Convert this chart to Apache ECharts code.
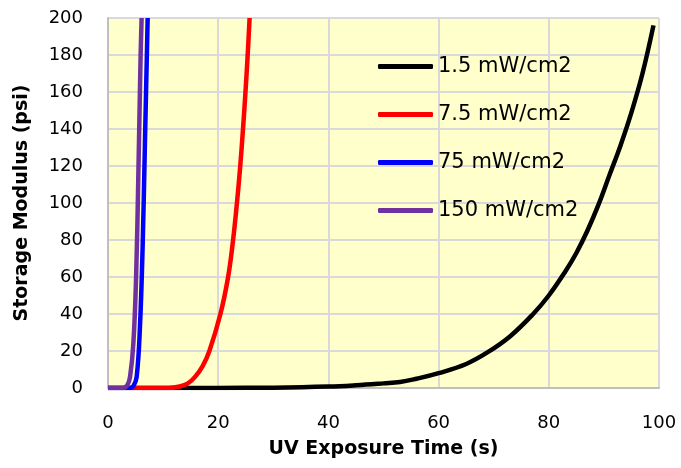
<!DOCTYPE html>
<html>
<head>
<meta charset="utf-8">
<script src="https://cdn.jsdelivr.net/npm/echarts@6/dist/echarts.min.js"></script>
<style>
  html, body { margin: 0; padding: 0; background: #fff; }
  #chart { width: 681px; height: 468px; }
</style>
</head>
<body>
<div id="chart"></div>
<script>
// series names (legend)
var seriesNames = ['1.5 mW/cm2', '7.5 mW/cm2', '75 mW/cm2', '150 mW/cm2'];
var seriesColors = ['#000000', '#FF0000', '#0000FF', '#7030A0'];

// 1.5 mW/cm2
var blackX = [0, 14, 20, 30, 40, 45, 50, 53, 56, 60, 65, 69, 73, 77, 80, 83, 85, 87, 89, 91, 93, 95, 97, 99];
var blackY = [0, 0, 0.05, 0.2, 0.8, 1.5, 2.5, 3.2, 5, 8, 13, 19.5, 28, 39.5, 50, 63, 73, 85, 99, 115, 131, 149, 170, 196];

// 7.5 mW/cm2
var redX = [4, 11, 13, 14.5, 15.8, 17.2, 18.4, 20.4, 21.8, 22.7, 23.4, 24, 24.5, 24.95, 25.35, 25.7];
var redY = [0, 0, 0.8, 2.5, 6, 12, 20, 40, 60, 80, 100, 120, 140, 160, 180, 200];

// 75 mW/cm2
var blueX = [0, 4, 4.6, 5.2, 5.8, 6.3, 6.7, 7.2];
var blueY = [0, 0, 1, 6, 33, 78, 132, 200];

// 150 mW/cm2
var purpleX = [0, 2.7, 3.5, 4, 4.6, 5.1, 5.5, 5.9, 6.1];
var purpleY = [0, 0, 1.5, 6, 24, 60, 114, 177, 200];

function pairs(xs, ys) {
  var out = [];
  for (var i = 0; i < xs.length; i++) out.push([xs[i], ys[i]]);
  return out;
}

var allData = [
  pairs(blackX, blackY),
  pairs(redX, redY),
  pairs(blueX, blueY),
  pairs(purpleX, purpleY)
];

var myChart = echarts.init(document.getElementById('chart'));

var series = seriesNames.map(function (name, i) {
  return {
    name: name,
    type: 'line',
    data: allData[i],
    showSymbol: false,
    symbol: 'none',
    smooth: 0.4,
    color: seriesColors[i],
    lineStyle: { width: 4.5, color: seriesColors[i] },
    z: 2 + i
  };
});

var option = {
  animation: false,
  textStyle: { fontFamily: 'DejaVu Sans' },
  grid: {
    left: 108, top: 18, right: 22, bottom: 80,
    show: true,
    backgroundColor: '#FFFFCC',
    borderWidth: 0
  },
  legend: {
    orient: 'vertical',
    left: 373,
    top: 51,
    itemWidth: 55,
    itemHeight: 5,
    itemGap: 27,
    icon: 'roundRect',
    data: seriesNames,
    textStyle: { fontSize: 21, color: '#000', fontFamily: 'DejaVu Sans' }
  },
  xAxis: {
    type: 'value',
    min: 0, max: 100, interval: 20,
    name: 'UV Exposure Time (s)',
    nameLocation: 'middle',
    nameGap: 52,
    nameTextStyle: { fontSize: 19, fontWeight: 'bold', color: '#000', fontFamily: 'DejaVu Sans' },
    axisLine: { show: true, lineStyle: { color: '#BFBFBF', width: 2 } },
    axisTick: { show: false },
    axisLabel: { fontSize: 18, color: '#000', margin: 26 },
    splitLine: { show: true, lineStyle: { color: '#D9D9D9', width: 2 } }
  },
  yAxis: {
    type: 'value',
    min: 0, max: 200, interval: 20,
    name: 'Storage Modulus (psi)',
    nameLocation: 'middle',
    nameGap: 76,
    nameTextStyle: { fontSize: 19, fontWeight: 'bold', color: '#000', fontFamily: 'DejaVu Sans' },
    axisLine: { show: true, lineStyle: { color: '#BFBFBF', width: 2 } },
    axisTick: { show: false },
    axisLabel: { fontSize: 18, color: '#000', margin: 25 },
    splitLine: { show: true, lineStyle: { color: '#D9D9D9', width: 2 } }
  },
  series: series
};

myChart.setOption(option);
</script>
</body>
</html>
